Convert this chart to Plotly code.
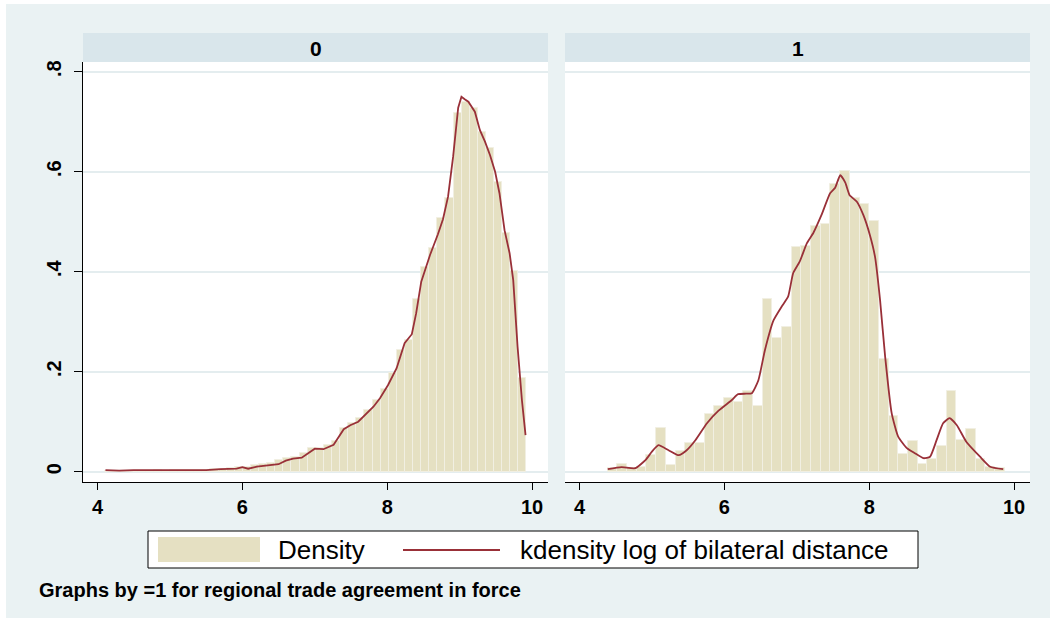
import plotly.graph_objects as go

W, H = 1056, 622

# ---------------- data ----------------
panel_titles = ["0", "1"]
x_ticks = [4, 6, 8, 10]
y_ticks = [0, 0.2, 0.4, 0.6, 0.8]
y_tick_labels = ["0", ".2", ".4", ".6", ".8"]

# Panel "0": histogram (density) of log bilateral distance
left_bin_start = 4.106
left_bin_width = 0.11185
left_density = [0.002, 0.001, 0.001, 0.002, 0.002, 0.002, 0.003, 0.002, 0.003, 0.003,
                0.004, 0.003, 0.004, 0.005, 0.006,
                0.007, 0.009, 0.010, 0.013, 0.015, 0.017, 0.023, 0.028, 0.029, 0.037,
                0.047, 0.047, 0.053, 0.061, 0.088, 0.098, 0.107, 0.123, 0.143, 0.165,
                0.198, 0.243, 0.263, 0.345, 0.409, 0.447, 0.507, 0.547, 0.717, 0.740,
                0.727, 0.680, 0.647, 0.580, 0.477, 0.402, 0.187]

# Panel "0": kernel density
left_kde_x = [4.11, 4.3, 4.5, 4.7, 4.9, 5.1, 5.3, 5.5, 5.7, 5.83,
              5.92, 6.0, 6.08, 6.2, 6.35, 6.5, 6.6, 6.7, 6.82, 6.9,
              7.0, 7.12, 7.26, 7.4, 7.49, 7.6, 7.72, 7.81, 7.9, 8.01,
              8.13, 8.24, 8.34, 8.4, 8.47, 8.59, 8.7, 8.77, 8.84, 8.91,
              8.98, 9.025, 9.07, 9.12, 9.21, 9.28, 9.35, 9.42, 9.49, 9.55,
              9.62, 9.69, 9.74, 9.8, 9.86, 9.91]
left_kde_y = [0.003, 0.002, 0.003, 0.003, 0.003, 0.003, 0.004, 0.003, 0.005, 0.005,
              0.006, 0.009, 0.006, 0.010, 0.012, 0.015, 0.022, 0.026, 0.028, 0.036,
              0.046, 0.045, 0.054, 0.085, 0.093, 0.100, 0.117, 0.130, 0.147, 0.173,
              0.207, 0.257, 0.275, 0.317, 0.380, 0.433, 0.475, 0.505, 0.550, 0.630,
              0.728, 0.750, 0.745, 0.740, 0.720, 0.683, 0.660, 0.633, 0.600, 0.557,
              0.483, 0.437, 0.383, 0.250, 0.143, 0.073]

# Panel "1": histogram
right_bin_start = 4.39
right_bin_width = 0.1337
right_density = [0.007, 0.015, 0.007, 0.010, 0.033, 0.087, 0.013, 0.041, 0.058, 0.057,
                 0.115, 0.131, 0.148, 0.140, 0.161, 0.132, 0.345, 0.268, 0.289, 0.450,
                 0.452, 0.491, 0.495, 0.575, 0.602, 0.547, 0.535, 0.501, 0.225, 0.112,
                 0.035, 0.062, 0.015, 0.025, 0.051, 0.162, 0.063, 0.085, 0.025, 0.009,
                 0.007]

# Panel "1": kernel density
right_kde_x = [4.39, 4.58, 4.77, 4.91, 5.0, 5.09, 5.23, 5.37, 5.48, 5.6,
               5.76, 5.92, 6.1, 6.19, 6.3, 6.38, 6.47, 6.56, 6.68, 6.79,
               6.88, 6.95, 7.04, 7.14, 7.23, 7.34, 7.46, 7.53, 7.6, 7.67,
               7.73, 7.83, 7.92, 8.01, 8.08, 8.15, 8.22, 8.31, 8.4, 8.52,
               8.63, 8.75, 8.84, 8.93, 9.02, 9.11, 9.21, 9.34, 9.53, 9.67,
               9.85]
right_kde_y = [0.005, 0.009, 0.007, 0.023, 0.040, 0.053, 0.043, 0.033, 0.043, 0.063,
               0.097, 0.122, 0.143, 0.155, 0.156, 0.157, 0.183, 0.243, 0.303, 0.330,
               0.350, 0.397, 0.420, 0.457, 0.478, 0.513, 0.557, 0.568, 0.593, 0.578,
               0.553, 0.540, 0.513, 0.473, 0.430, 0.343, 0.230, 0.117, 0.070, 0.047,
               0.037, 0.027, 0.030, 0.063, 0.097, 0.107, 0.093, 0.060, 0.030, 0.010,
               0.005]

legend_labels = ["Density", "kdensity log of bilateral distance"]
note_text = "Graphs by =1 for regional trade agreement in force"

# ---------------- styles ----------------
BG = "#eaf2f3"
STRIP = "#d9e6eb"
BAR = "#e5e0c2"
BAR_LINE = "#f1efe2"
KDE = "#993038"
GRID = "#e4edef"
FONT = "Liberation Sans, Arial, sans-serif"


def px_x(p):
    return p / W


def px_y(p):
    return 1 - p / H


def centers(start, width, n):
    return [start + width * (i + 0.5) for i in range(n)]


fig = go.Figure()

fig.add_trace(go.Bar(
    x=centers(left_bin_start, left_bin_width, len(left_density)), y=left_density,
    width=left_bin_width, marker=dict(color=BAR, line=dict(color=BAR_LINE, width=1)),
    xaxis="x", yaxis="y", name=legend_labels[0], showlegend=False))
fig.add_trace(go.Scatter(
    x=left_kde_x, y=left_kde_y, mode="lines", line=dict(color=KDE, width=1.8),
    xaxis="x", yaxis="y", name=legend_labels[1], showlegend=False))
fig.add_trace(go.Bar(
    x=centers(right_bin_start, right_bin_width, len(right_density)), y=right_density,
    width=right_bin_width, marker=dict(color=BAR, line=dict(color=BAR_LINE, width=1)),
    xaxis="x2", yaxis="y2", name=legend_labels[0], showlegend=False))
fig.add_trace(go.Scatter(
    x=right_kde_x, y=right_kde_y, mode="lines",
    line=dict(color=KDE, width=1.8, shape="spline", smoothing=0.5),
    xaxis="x2", yaxis="y2", name=legend_labels[1], showlegend=False))

# panel geometry (pixels)
L0, L1 = 83, 548
R0, R1 = 565, 1030
TOP, BOT = 62, 482
STRIP_TOP = 33

xr = [3.80, 10.22]
yr = [-0.0206, 0.8194]

tickfont = dict(family=FONT, size=20, color="black", weight="bold")

common_x = dict(range=xr, tickvals=x_ticks, ticks="outside", ticklen=7, tickwidth=1,
                tickcolor="black", showline=True, linecolor="black", linewidth=1,
                showgrid=False, zeroline=False, tickfont=tickfont, automargin=False,
                fixedrange=True)
common_y = dict(range=yr, tickvals=y_ticks, showgrid=True, gridcolor=GRID, gridwidth=1.5,
                zeroline=False, automargin=False, fixedrange=True)

fig.update_layout(
    width=W, height=H,
    margin=dict(l=0, r=0, t=0, b=0),
    paper_bgcolor=BG, plot_bgcolor="white",
    bargap=0, barmode="overlay",
    showlegend=False,
    font=dict(family=FONT, color="black"),
    xaxis=dict(domain=[px_x(L0), px_x(L1)], anchor="y", **common_x),
    xaxis2=dict(domain=[px_x(R0), px_x(R1)], anchor="y2", **common_x),
    yaxis=dict(domain=[px_y(BOT), px_y(TOP)], anchor="x", ticktext=y_tick_labels,
               ticks="outside", ticklen=8, tickcolor="black", tickangle=-90,
               ticklabelstandoff=5,
               showline=True, linecolor="black", linewidth=1, tickfont=tickfont,
               **common_y),
    yaxis2=dict(domain=[px_y(BOT), px_y(TOP)], anchor="x2", showticklabels=False,
                ticks="", showline=False, **common_y),
)

shapes = []
# white outer border
for (a, b, c, d) in [(0, 0, W, 4), (0, 618, W, H), (0, 0, 6, H), (1050, 0, W, H)]:
    shapes.append(dict(type="rect", xref="paper", yref="paper", x0=px_x(a), x1=px_x(c),
                       y0=px_y(d), y1=px_y(b), fillcolor="white", line=dict(width=0),
                       layer="above"))
# strips
for (a, b) in [(L0, L1), (R0, R1)]:
    shapes.append(dict(type="rect", xref="paper", yref="paper", x0=px_x(a), x1=px_x(b),
                       y0=px_y(TOP), y1=px_y(STRIP_TOP), fillcolor=STRIP,
                       line=dict(width=0), layer="above"))
# legend box
LB = (148, 531, 918, 568)
shapes.append(dict(type="rect", xref="paper", yref="paper", x0=px_x(LB[0]), x1=px_x(LB[2]),
                   y0=px_y(LB[3]), y1=px_y(LB[1]), fillcolor="white",
                   line=dict(color="black", width=1), layer="above"))
# legend swatch
shapes.append(dict(type="rect", xref="paper", yref="paper", x0=px_x(158), x1=px_x(260),
                   y0=px_y(562), y1=px_y(537), fillcolor=BAR, line=dict(width=0),
                   layer="above"))
# legend line
shapes.append(dict(type="line", xref="paper", yref="paper", x0=px_x(403), x1=px_x(500),
                   y0=px_y(550), y1=px_y(550), line=dict(color=KDE, width=1.8),
                   layer="above"))
fig.update_layout(shapes=shapes)

ann = []
for title, (a, b) in zip(panel_titles, [(L0, L1), (R0, R1)]):
    ann.append(dict(text=title, xref="paper", yref="paper", x=px_x((a + b) / 2),
                    y=px_y(48), xanchor="center", yanchor="middle", showarrow=False,
                    font=dict(family=FONT, size=21, color="black", weight="bold")))
ann.append(dict(text=legend_labels[0], xref="paper", yref="paper", x=px_x(276),
                y=px_y(550), xanchor="left", yanchor="middle", showarrow=False,
                font=dict(family=FONT, size=26, color="black")))
ann.append(dict(text=legend_labels[1], xref="paper", yref="paper", x=px_x(518),
                y=px_y(550), xanchor="left", yanchor="middle", showarrow=False,
                font=dict(family=FONT, size=26, color="black")))
ann.append(dict(text=note_text, xref="paper", yref="paper", x=px_x(37),
                y=px_y(590), xanchor="left", yanchor="middle", showarrow=False,
                font=dict(family=FONT, size=20, color="black", weight="bold")))
fig.update_layout(annotations=ann)

fig.write_html("out.html", config={"displayModeBar": False},
               post_script="document.body.style.margin='0';document.body.style.padding='0';")
